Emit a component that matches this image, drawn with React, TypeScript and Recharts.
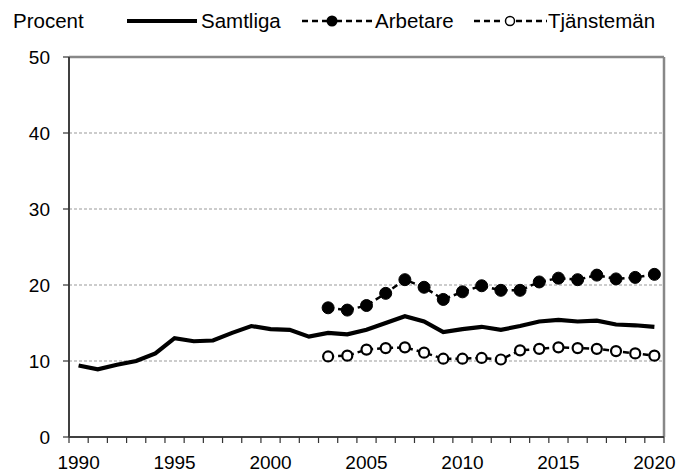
import { CartesianGrid, Line, LineChart, ReferenceLine, XAxis, YAxis } from "recharts";

const years = [
  1990, 1991, 1992, 1993, 1994, 1995, 1996, 1997, 1998, 1999, 2000, 2001, 2002, 2003, 2004, 2005,
  2006, 2007, 2008, 2009, 2010, 2011, 2012, 2013, 2014, 2015, 2016, 2017, 2018, 2019, 2020,
];
const samtliga = [
  9.4, 8.9, 9.5, 10.0, 11.0, 13.0, 12.6, 12.7, 13.7, 14.6, 14.2, 14.1, 13.2, 13.7, 13.5, 14.1,
  15.0, 15.9, 15.2, 13.8, 14.2, 14.5, 14.1, 14.6, 15.2, 15.4, 15.2, 15.3, 14.8, 14.7, 14.5,
];
// Arbetare och Tjänstemän finns från 2003
const subStart = 2003;
const arbetare = [
  17.0, 16.7, 17.3, 18.9, 20.7, 19.7, 18.1, 19.1, 19.9, 19.3, 19.3, 20.4, 20.9, 20.7, 21.3, 20.8, 21.0, 21.4,
];
const tjansteman = [
  10.6, 10.7, 11.5, 11.7, 11.8, 11.1, 10.3, 10.3, 10.4, 10.2, 11.4, 11.6, 11.8, 11.7, 11.6, 11.3, 11.0, 10.7,
];
const xLabels = [1990, 1995, 2000, 2005, 2010, 2015, 2020];
const yTicks = [0, 10, 20, 30, 40, 50];

const data = years.map((year, i) => {
  const j = year - subStart;
  return {
    year,
    samtliga: samtliga[i],
    arbetare: j >= 0 ? arbetare[j] : null,
    tjansteman: j >= 0 ? tjansteman[j] : null,
  };
});

const FONT = "'Liberation Sans', Arial, sans-serif";
const tickStyle = { fill: "#000", fontSize: 19, fontFamily: FONT };
const DASH = "6 4";

// Excel-style category ticks: a mark between every year, a label every fifth year
function YearTick(props: any) {
  const { x, y, payload, width, index, visibleTicksCount } = props;
  const half = (Number(width) || 595) / years.length / 2;
  const last = index === visibleTicksCount - 1;
  return (
    <g>
      <line x1={x - half} x2={x - half} y1={y} y2={y + 6} stroke="#333" strokeWidth={1.2} />
      {last && <line x1={x + half} x2={x + half} y1={y} y2={y + 6} stroke="#333" strokeWidth={1.2} />}
      {xLabels.includes(payload.value) && (
        <text x={x} y={y + 32} textAnchor="middle" {...tickStyle}>
          {payload.value}
        </text>
      )}
    </g>
  );
}

function LegendBar() {
  const text = { fontSize: 20.5, fontFamily: FONT, fill: "#000" } as const;
  return (
    <svg width={678} height={40} style={{ position: "absolute", left: 0, top: 0 }}>
      <text x={13} y={28} {...text}>Procent</text>
      <line x1={127} x2={197} y1={21} y2={21} stroke="#000" strokeWidth={4} />
      <text x={201} y={28} {...text}>Samtliga</text>
      <line x1={302} x2={328} y1={21} y2={21} stroke="#000" strokeWidth={2.5} strokeDasharray={DASH} />
      <line x1={336} x2={372} y1={21} y2={21} stroke="#000" strokeWidth={2.5} strokeDasharray={DASH} />
      <circle cx={332} cy={21} r={5.5} fill="#000" />
      <text x={375} y={28} {...text}>Arbetare</text>
      <line x1={474} x2={504} y1={21} y2={21} stroke="#000" strokeWidth={2.5} strokeDasharray={DASH} />
      <line x1={516} x2={547} y1={21} y2={21} stroke="#000" strokeWidth={2.5} strokeDasharray={DASH} />
      <circle cx={510} cy={21} r={4.5} fill="#fff" stroke="#000" strokeWidth={1.5} />
      <text x={548} y={28} {...text}>Tjänstemän</text>
    </svg>
  );
}

export default function App() {
  return (
    <div style={{ position: "absolute", left: 0, top: 0, width: 678, height: 472, background: "#fff" }}>
      <LineChart width={678} height={472} data={data} margin={{ top: 57, right: 14, bottom: 0, left: 0 }}>
        <CartesianGrid horizontal vertical={false} stroke="#999" strokeDasharray="3 2" />
        <XAxis
          dataKey="year"
          type="number"
          domain={[1989.5, 2020.5]}
          allowDataOverflow
          ticks={years}
          interval={0}
          tickLine={false}
          tickSize={0}
          tickMargin={0}
          height={35}
          tick={YearTick}
          axisLine={{ stroke: "#404040", strokeWidth: 2 }}
        />
        <YAxis
          domain={[0, 50]}
          ticks={yTicks}
          interval={0}
          width={69}
          tickSize={6}
          tickMargin={13}
          tick={tickStyle}
          axisLine={{ stroke: "#404040", strokeWidth: 2 }}
          tickLine={{ stroke: "#333", strokeWidth: 1.2 }}
        />
        <ReferenceLine y={50} stroke="#888" strokeWidth={2.5} />
        <ReferenceLine x={2020.5} stroke="#888" strokeWidth={2.5} />
        <Line
          dataKey="samtliga"
          stroke="#000"
          strokeWidth={4.2}
          dot={false}
          isAnimationActive={false}
        />
        <Line
          dataKey="arbetare"
          stroke="#000"
          strokeWidth={2.5}
          strokeDasharray={DASH}
          dot={{ r: 6, fill: "#000", stroke: "#000", strokeWidth: 1, strokeDasharray: "" }}
          isAnimationActive={false}
        />
        <Line
          dataKey="tjansteman"
          stroke="#000"
          strokeWidth={2.5}
          strokeDasharray={DASH}
          dot={{ r: 5, fill: "#fff", stroke: "#000", strokeWidth: 2.2, strokeDasharray: "" }}
          isAnimationActive={false}
        />
      </LineChart>
      <LegendBar />
    </div>
  );
}
